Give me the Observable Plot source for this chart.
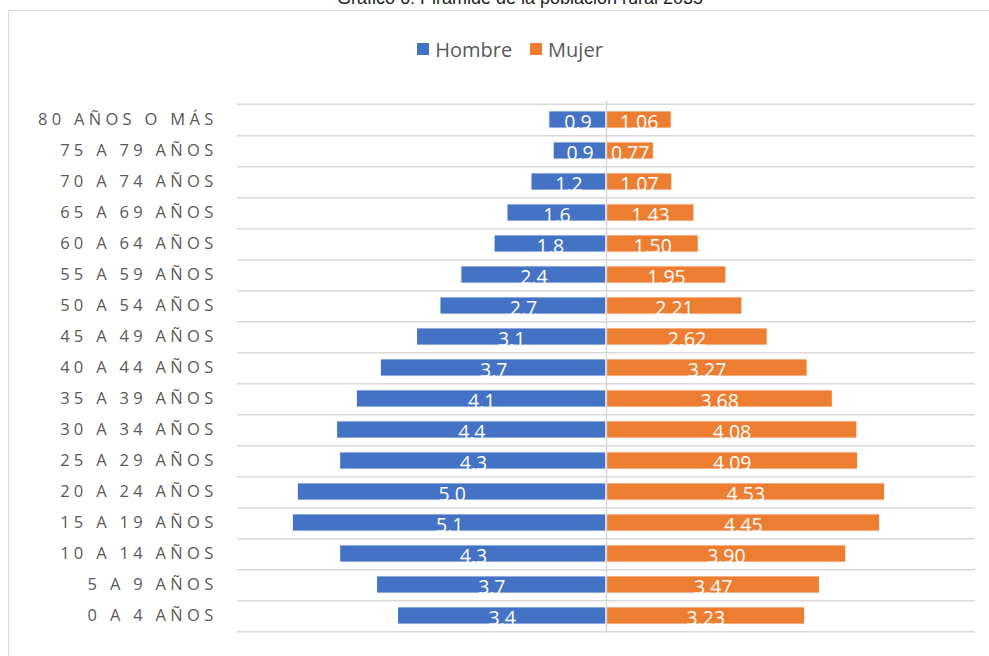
<!DOCTYPE html>
<html>
<head>
<meta charset="utf-8">
<script src="https://cdn.jsdelivr.net/npm/d3@7"></script>
<script src="https://cdn.jsdelivr.net/npm/@observablehq/plot@0.6"></script>
<style>
  html, body { margin: 0; padding: 0; background: #fff; }
  #wrap { position: relative; width: 989px; height: 656px; overflow: hidden; background: #fff; }
  #title { position: absolute; left: 0; width: 1040px; top: -12px; text-align: center; font-family: "Liberation Sans", Arial, sans-serif; font-size: 18px; color: #222; white-space: nowrap; }
  #frame { position: absolute; left: 8px; top: 10px; width: 990px; height: 660px; border: 1px solid #d9d9d9; box-sizing: border-box; }
  #legend { position: absolute; top: 34px; left: 0; width: 1020px; text-align: center; font-family: "Open Sans", "Noto Sans", sans-serif; font-size: 20px; color: #595959; }
  #legend span.item { display: inline-flex; align-items: center; margin: 0 9px; }
  #legend span.sw { display: inline-block; width: 12px; height: 12px; margin-right: 6px; }
  #chart { position: absolute; left: 0; top: 0; }
  #chart svg { display: block; }
  #chart g[aria-label="y-axis tick label"] text { letter-spacing: 4.3px; }
</style>
</head>
<body>
<div id="wrap">
  <div id="title">Gráfico 6: Pirámide de la población rural 2035</div>
  <div id="frame"></div>
  <div id="legend"></div>
  <div id="chart"></div>
</div>
<script>
const categories = ["80 AÑOS O MÁS", "75 A 79 AÑOS", "70 A 74 AÑOS", "65 A 69 AÑOS", "60 A 64 AÑOS",
  "55 A 59 AÑOS", "50 A 54 AÑOS", "45 A 49 AÑOS", "40 A 44 AÑOS", "35 A 39 AÑOS", "30 A 34 AÑOS",
  "25 A 29 AÑOS", "20 A 24 AÑOS", "15 A 19 AÑOS", "10 A 14 AÑOS", "5 A 9 AÑOS", "0 A 4 AÑOS"];
const hombre = [0.93, 0.86, 1.22, 1.61, 1.82, 2.36, 2.70, 3.08, 3.67, 4.06, 4.38, 4.33, 5.02, 5.10, 4.33, 3.73, 3.39];
const mujer = [1.06, 0.77, 1.07, 1.43, 1.50, 1.95, 2.21, 2.62, 3.27, 3.68, 4.08, 4.09, 4.53, 4.45, 3.90, 3.47, 3.23];
const series = ["Hombre", "Mujer"];
const colors = ["#4472C4", "#ED7D31"];
const xDomain = [-6, 6];

const data = [];
categories.forEach((c, i) => {
  data.push({cat: c, sexo: "Hombre", v: -hombre[i], label: hombre[i].toFixed(1).replace(".", ",")});
  data.push({cat: c, sexo: "Mujer", v: mujer[i], label: mujer[i].toFixed(2).replace(".", ",")});
});

// legend
const leg = document.getElementById("legend");
series.forEach((s, i) => {
  const it = document.createElement("span");
  it.className = "item";
  it.innerHTML = `<span class="sw" style="background:${colors[i]}"></span>${s}`;
  leg.appendChild(it);
});

const W = 989, H = 656, mt = 101, mb = 23, ml = 237, mr = 14;
const bw = (H - mt - mb) / categories.length;
const barH = 17.5;
const inset = (bw - barH) / 2;

const chart = Plot.plot({
  width: W,
  height: H,
  marginTop: mt,
  marginBottom: mb,
  marginLeft: ml,
  marginRight: mr,
  style: {background: "transparent", fontFamily: "'Open Sans', 'Noto Sans', sans-serif"},
  x: {domain: xDomain, axis: null},
  y: {domain: categories, padding: 0, label: null},
  color: {domain: series, range: colors},
  marks: [
    Plot.ruleY(categories, {y: d => d, dy: bw / 2, x1: xDomain[0], x2: xDomain[1], stroke: "#d9d9d9", strokeWidth: 1.5}),
    Plot.ruleY([categories[0]], {y: d => d, dy: -bw / 2, x1: xDomain[0], x2: xDomain[1], stroke: "#d9d9d9", strokeWidth: 1.5}),
    Plot.barX(data, {y: "cat", x1: 0, x2: "v", fill: "sexo", stroke: "white", strokeWidth: 1, insetTop: inset, insetBottom: inset}),
    Plot.ruleX([0], {stroke: "#d9d9d9", strokeWidth: 1.5}),
    Plot.text(data, {y: "cat", x: d => d.v / 2, text: "label", fill: "white", fontSize: 19.5, dy: 3}),
    Plot.axisY({tickSize: 0, tickPadding: 20, fontSize: 16.5, fill: "#595959"})
  ]
});
document.getElementById("chart").appendChild(chart);
</script>
</body>
</html>
